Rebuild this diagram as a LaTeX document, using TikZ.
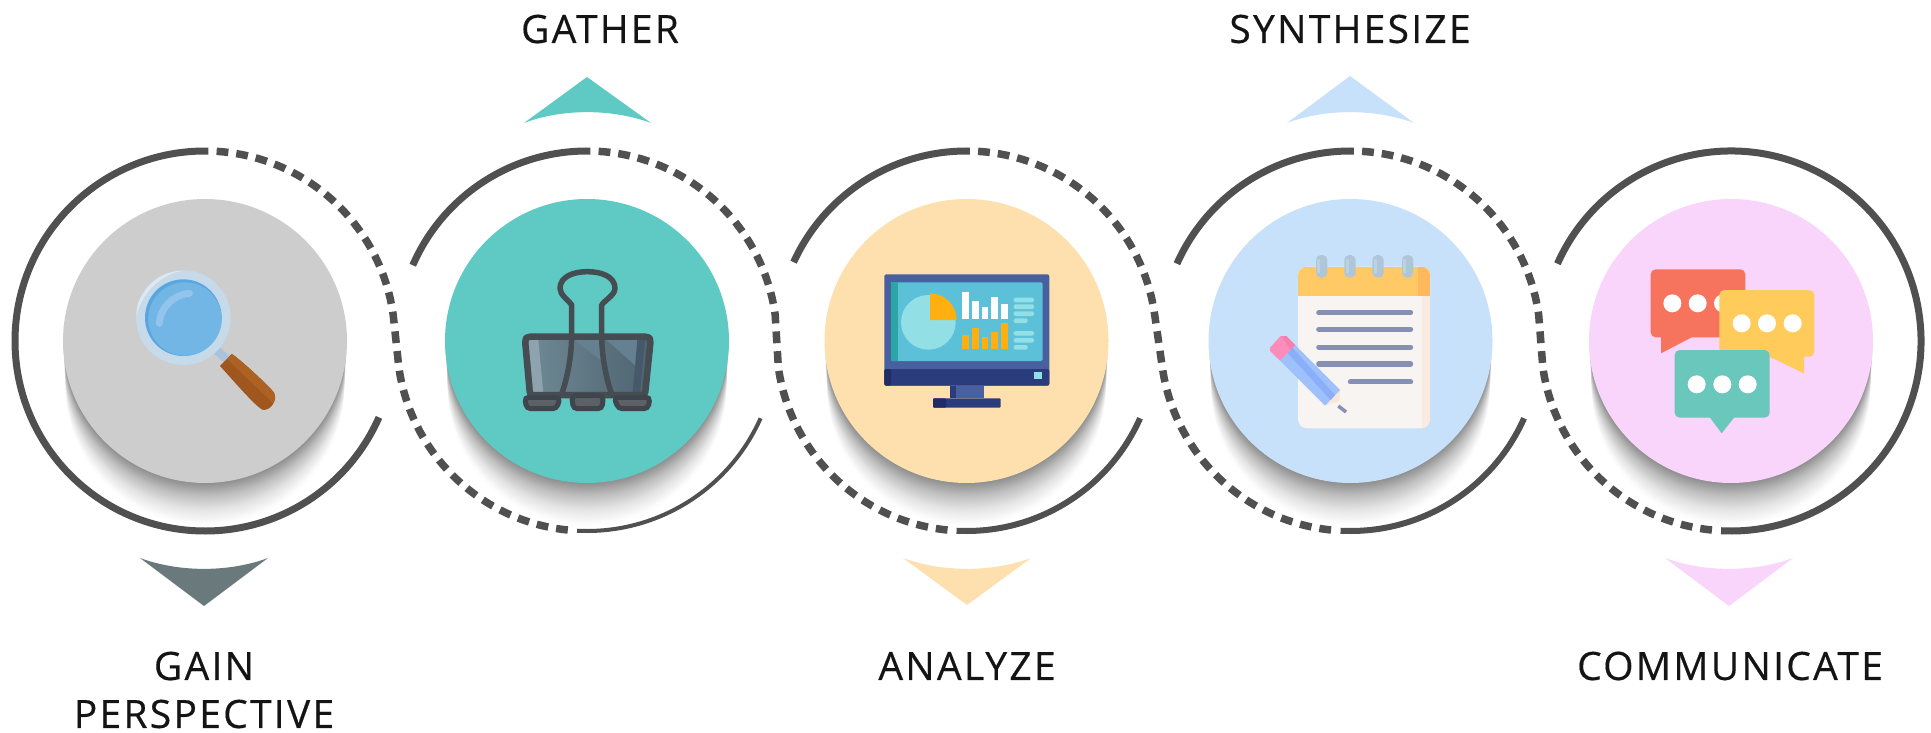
\documentclass[tikz,border=0pt]{standalone}
\usepackage{fontspec}
\usetikzlibrary{calc}
\setmainfont{Open Sans}
\definecolor{ringc}{HTML}{505050}
\definecolor{dgray}{HTML}{CDCDCD}
\definecolor{dteal}{HTML}{5FC9C3}
\definecolor{dorange}{HTML}{FDE0AE}
\definecolor{dblue}{HTML}{C7E1FA}
\definecolor{dpink}{HTML}{F9D4FB}
\definecolor{tgray}{HTML}{69797C}
\definecolor{mframe}{HTML}{48609F}
\definecolor{mdark}{HTML}{2A3C7B}
\definecolor{mdarker}{HTML}{1F2C66}
\definecolor{mscreen}{HTML}{5BC0D8}
\definecolor{mstrip}{HTML}{2AA6A5}
\definecolor{mpale}{HTML}{92E0E6}
\definecolor{morange}{HTML}{FFAF10}
\definecolor{nline}{HTML}{8590B4}
\definecolor{nyellow}{HTML}{FFC966}
\definecolor{nyelld}{HTML}{FFB95C}
\definecolor{npage}{HTML}{F8F4F1}
\definecolor{npaged}{HTML}{F9EBE0}
\definecolor{nring}{HTML}{AEC6D8}
\definecolor{nringl}{HTML}{BCD2E0}
\definecolor{pwood}{HTML}{F7E6D9}
\definecolor{pblue}{HTML}{9EC1FB}
\definecolor{pblued}{HTML}{8AAEF8}
\definecolor{ppink}{HTML}{FC8DBB}
\definecolor{ppinkd}{HTML}{F77FAF}
\definecolor{wire}{HTML}{454C52}
\definecolor{cbodyl}{HTML}{6F8A96}
\definecolor{cbodyr}{HTML}{4F6470}
\definecolor{clight}{HTML}{8EA3AD}
\definecolor{cmid}{HTML}{658090}
\definecolor{cdark}{HTML}{46596A}
\definecolor{cfoot}{HTML}{5C6168}
\definecolor{cfootd}{HTML}{3E454C}
\definecolor{gneck}{HTML}{A9C3DC}
\definecolor{ghandle}{HTML}{A0561F}
\definecolor{ghandlel}{HTML}{AD6224}
\definecolor{grim}{HTML}{C6DAE9}
\definecolor{grimlight}{HTML}{DCE9F2}
\definecolor{glensd}{HTML}{5AA7E0}
\definecolor{glens}{HTML}{72B6E6}
\definecolor{glight}{HTML}{93C4EC}
\definecolor{bred}{HTML}{F6735D}
\definecolor{byellow}{HTML}{FFCC5C}
\definecolor{bgreen}{HTML}{69C7BB}
\newcommand{\discat}[3]{%
  \foreach \k in {1,...,40}{%
    \pgfmathsetmacro{\alphak}{.0135*(1-\k/41)+.0045}%
    \pgfmathsetmacro{\radk}{141.5-.05*\k}%
    \fill[black,opacity=\alphak] ($(#1)+(0,\k*1.15)$) circle[radius=\radk pt];}
  \node[disc,fill=#2] (#3) at (#1) {};}
\newcommand{\ringarc}[4][]{\draw[ringline,#1] (#2) ++({-(#3)}:190) arc[start angle={-(#3)},end angle={-(#4)},radius=190pt];}
\newcommand{\linkarc}[2]{\draw[ringline,line width=7.5pt,dash pattern=on 11.8pt off 8pt] (#1) ++(-86.5:190) arc[start angle=-86.5,end angle=-8,radius=190pt] -- ($(#2)+(-188:190)$) arc[start angle=-188,end angle=-264.3,radius=190pt];}
\newcommand{\uptri}[3]{\fill[#3] (#1-63,123) -- (#1,#2) -- (#1+64,123) .. controls (#1+25,108.5) and (#1-25,108.5) .. cycle;}
\newcommand{\downtri}[3]{\fill[#3] (#1-64,558) -- (#1,#2) -- (#1+64,558) .. controls (#1+25,572.5) and (#1-25,572.5) .. cycle;}
\tikzset{
  disc/.style={circle,minimum size=284pt,inner sep=0pt,draw=none},
  ringline/.style={draw=ringc,line width=7pt,line cap=butt},
  steplabel/.style={font={\fontsize{39}{48}\selectfont\addfontfeature{LetterSpace=5.8,FakeBold=0.4}},text=black!92,align=center,inner sep=0pt},
  zoomed/.style={scale=0.33333},
}
\begin{document}
\begin{tikzpicture}[x=1pt,y=1pt,yscale=-1]
\useasboundingbox (0,0) rectangle (1931,733);
\fill[white] (0,0) rectangle (1931,733);
\coordinate (c1) at (205,341);
\coordinate (c2) at (587,341);
\coordinate (c3) at (966.5,341);
\coordinate (c4) at (1350.5,341);
\coordinate (c5) at (1731,341);
% discs with their shadows
\discat{c1}{dgray}{d1}
\discat{c2}{dteal}{d2}
\discat{c3}{dorange}{d3}
\discat{c4}{dblue}{d4}
\discat{c5}{dpink}{d5}
% rings
\ringarc{c1}{89}{336.3}
\ringarc{c2}{156.5}{89}
\ringarc[line width=4pt]{c2}{267}{336}
\ringarc{c3}{155.5}{89}
\ringarc[line width=6pt]{c3}{267}{336}
\ringarc{c4}{156}{89}
\ringarc[line width=6pt]{c4}{267}{336}
\ringarc{c5}{156}{-93}
\linkarc{c1}{c2}
\linkarc{c2}{c3}
\linkarc{c3}{c4}
\linkarc{c4}{c5}
% pointers
\downtri{204}{606}{tgray}
\uptri{587}{77}{dteal}
\downtri{967}{605}{dorange}
\uptri{1350}{76}{dblue}
\downtri{1729}{606}{dpink}
% labels
\node[steplabel] (l1) at (204,690) {GAIN\\PERSPECTIVE};
\node[steplabel] (l2) at (600,29) {GATHER};
\node[steplabel] (l3) at (967,666) {ANALYZE};
\node[steplabel] (l4) at (1350,29) {SYNTHESIZE};
\node[steplabel] (l5) at (1730,666) {COMMUNICATE};
% magnifier
\begin{scope}[shift={(120,240)},zoomed]
\fill[gneck] (282,340) -- (300,322) -- (330,350) -- (312,368) -- cycle;
\fill[ghandle] (300,378) -- (335,342) .. controls (345,345) and (440,430) .. (462,458) .. controls (472,480) and (455,510) .. (430,510) .. controls (410,505) and (330,410) .. (300,378) -- cycle;
\fill[ghandlel] (335,342) .. controls (345,345) and (440,430) .. (462,458) .. controls (468,470) and (466,480) .. (460,490) -- (322,358) -- cycle;
\fill[grim] (190,233) circle[radius=142pt];
\fill[grimlight] (70,160) .. controls (100,110) and (150,92) .. (190,92) .. controls (130,100) and (70,150) .. (50,225) .. controls (48,205) and (55,180) .. (70,160) -- cycle;
\fill[glensd] (190,233) circle[radius=115pt];
\fill[glens] (195,237) circle[radius=110pt];
\draw[glight,line width=7pt,line cap=round] (118,250) .. controls (122,200) and (160,165) .. (208,160);
\end{scope}
% binder clip
\begin{scope}[shift={(510,260)},zoomed]
\shade[left color=cbodyl,right color=cbodyr] (45,235) -- (420,235) -- (405,410) -- (60,410) -- cycle;
\fill[clight] (55,240) -- (85,240) -- (100,400) -- (70,400) -- cycle;
\fill[cmid] (190,238) -- (272,238) -- (272,300) -- cycle;
\fill[cmid] (290,240) -- (385,240) -- (385,325) -- cycle;
\fill[cdark] (382,240) -- (405,240) -- (390,400) -- (368,400) -- cycle;
\draw[wire,line width=6.5pt,line join=round,rounded corners=3pt] (45,240) -- (52,230) -- (415,230) -- (422,240) -- (405,405) -- (60,405) -- cycle;
\draw[wire,line width=5.5pt,line join=round] (185,235) -- (185,135) .. controls (175,120) and (150,105) .. (150,85) .. controls (150,50) and (190,35) .. (232,35) .. controls (275,35) and (315,50) .. (315,85) .. controls (315,105) and (285,120) .. (275,135) -- (275,235);
\draw[wire,line width=5.5pt] (185,235) .. controls (183,300) and (170,360) .. (155,402);
\draw[wire,line width=5.5pt] (275,235) .. controls (277,300) and (290,360) .. (305,402);
\filldraw[draw=cfootd,fill=cfoot,line width=5pt,rounded corners=4pt] (44,412) -- (150,412) -- (140,446) -- (50,446) -- cycle;
\filldraw[draw=cfootd,fill=cfoot,line width=5pt,rounded corners=4pt] (185,407) -- (280,407) -- (276,446) -- (190,446) -- cycle;
\filldraw[draw=cfootd,fill=cfoot,line width=5pt,rounded corners=4pt] (312,412) -- (420,412) -- (414,446) -- (325,446) -- cycle;
\end{scope}
% monitor
\begin{scope}[shift={(830,250)},zoomed]
\fill[mframe,rounded corners=2pt] (163,73) rectangle (658,407);
\fill[mdark,rounded corners=2pt] (163,357) rectangle (658,407);
\fill[mdarker,rounded corners=2pt] (163,357) rectangle (183,407);
\fill[mscreen,rounded corners=1.5pt] (183,97) rectangle (638,333);
\fill[mstrip] (183,97) rectangle (205,333);
\fill[mpale] (295,217) circle[radius=82pt];
\fill[morange] (300,210) -- (300,130) arc[start angle=-90,end angle=0,radius=80pt] -- cycle;
\foreach \xa/\xb/\yt in {397/416/127,425/447/153,455/475/170,482/505/142,513/535/162}{\fill[white] (\xa,\yt) rectangle (\xb,206);}
\foreach \xa/\xb/\yt in {397/416/255,425/447/235,455/474/262,482/505/245,513/535/220}{\fill[morange] (\xa,\yt) rectangle (\xb,298);}
\foreach \xb/\yt in {612/143,612/163,612/184,593/205,612/243,612/264,593/285}{\fill[mpale,rounded corners=1.5pt] (551,\yt) rectangle (\xb,\yt+14);}
\fill[mpale] (612,365) rectangle (635,388);
\fill[mdark] (360,407) rectangle (462,445);
\fill[mframe] (378,407) rectangle (462,445);
\fill[mdark,rounded corners=1pt] (309,445) rectangle (512,473);
\fill[mdarker,rounded corners=1pt] (309,445) rectangle (348,473);
\end{scope}
% notepad
\begin{scope}[shift={(1240,240)},zoomed]
\fill[npage,rounded corners=9pt] (174,80) rectangle (570,565);
\begin{scope}
\clip[rounded corners=9pt] (174,80) rectangle (570,565);
\fill[npaged] (545,160) rectangle (570,565);
\fill[nyellow] (174,80) rectangle (570,167);
\fill[nyelld] (535,80) rectangle (570,167);
\end{scope}
\foreach \xc in {245,330,414,503}{
  \fill[nring,rounded corners=5pt] (\xc-17,45) rectangle (\xc+17,113);
  \fill[nringl] (\xc-13,58) rectangle (\xc-4,100);}
\foreach \xa/\yy in {228/218,228/268,228/321,228/372,323/426}{\draw[nline,line width=5pt,line cap=round] (\xa+8,\yy) -- (512,\yy);}
\draw[nline,line width=3.5pt] (295,498) -- (318,516);
\fill[pwood] (255,497) -- (300,450) -- (298,483) -- cycle;
\fill[pblue] (120,362) -- (165,315) -- (300,450) -- (255,497) -- cycle;
\fill[pblued] (142,338) -- (157,323) -- (285,465) -- (272,480) -- cycle;
\fill[ppink] (90,323) -- (122,288) -- (138,288) -- (165,315) -- (120,362) -- (90,333) -- cycle;
\fill[ppinkd] (138,288) -- (165,315) -- (152,329) -- (124,288) -- cycle;
\end{scope}
% speech bubbles
\begin{scope}[shift={(1620,250)},zoomed]
\fill[bred,rounded corners=5pt] (92,58) rectangle (376,262);
\fill[bred] (123,250) -- (123,310) -- (215,262) -- (215,250) -- cycle;
\foreach \xc in {157,233,309}{\fill[white] (\xc,160) circle[radius=27pt];}
\fill[byellow,rounded corners=5pt] (298,120) rectangle (583,320);
\fill[byellow] (552,300) -- (552,370) -- (448,320) -- (448,300) -- cycle;
\foreach \xc in {365,441,518}{\fill[white] (\xc,220) circle[radius=27pt];}
\fill[bgreen,rounded corners=5pt] (164,300) rectangle (449,503);
\fill[bgreen] (270,495) -- (270,503) -- (305,550) -- (342,503) -- (342,495) -- cycle;
\foreach \xc in {230,307,383}{\fill[white] (\xc,403) circle[radius=27pt];}
\end{scope}
\end{tikzpicture}
\end{document}
